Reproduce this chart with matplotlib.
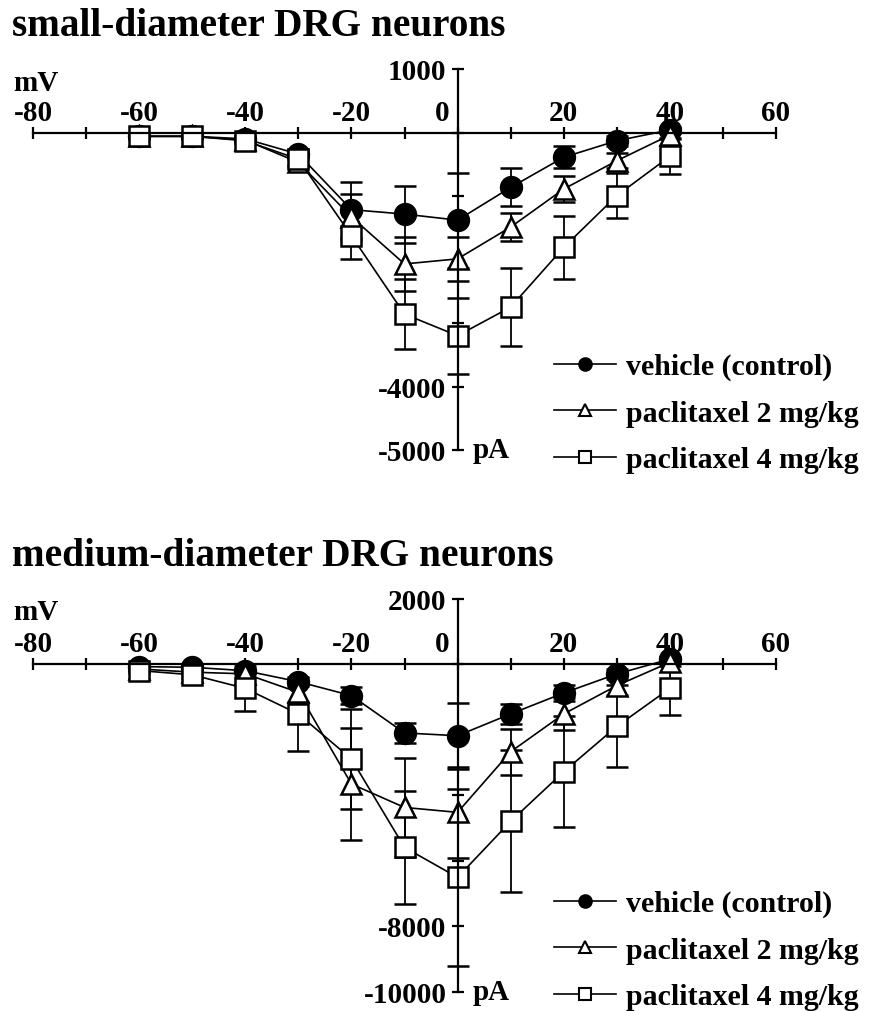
import matplotlib
matplotlib.use("Agg")
import matplotlib.pyplot as plt
from matplotlib.lines import Line2D
from matplotlib.transforms import ScaledTranslation

plt.rcParams['font.family'] = ['Liberation Serif', 'DejaVu Serif']
plt.rcParams['font.weight'] = 'bold'

# membrane potential steps (mV)
voltage = [-60, -50, -40, -30, -20, -10, 0, 10, 20, 30, 40]

# small-diameter DRG neurons: mean current (pA) and SEM
small_vehicle = [-60, -60, -100, -340, -1215, -1285, -1380, -865, -390, -130, 40]
small_vehicle_err = [20, 20, 40, 80, 440, 450, 750, 300, 170, 80, 40]
small_ptx2 = [-60, -60, -120, -470, -1330, -2070, -1990, -1490, -890, -445, -40]
small_ptx2_err = [20, 20, 40, 80, 360, 430, 350, 220, 200, 120, 40]
small_ptx4 = [-60, -60, -130, -420, -1625, -2860, -3200, -2750, -1810, -995, -375]
small_ptx4_err = [20, 20, 40, 90, 370, 550, 600, 610, 500, 350, 280]

# medium-diameter DRG neurons
med_vehicle = [-80, -100, -205, -540, -965, -2105, -2190, -1525, -885, -305, 150]
med_vehicle_err = [40, 40, 60, 120, 250, 300, 1010, 300, 250, 150, 60]
med_ptx2 = [-150, -250, -300, -865, -3665, -4380, -4530, -2680, -1525, -660, 50]
med_ptx2_err = [60, 80, 100, 300, 1700, 1500, 1400, 700, 500, 300, 100]
med_ptx4 = [-200, -330, -745, -1525, -2900, -5600, -6515, -4805, -3290, -1905, -745]
med_ptx4_err = [80, 100, 680, 1120, 1530, 1730, 2700, 2165, 1700, 1250, 810]

labels = ['vehicle (control)', 'paclitaxel 2 mg/kg', 'paclitaxel 4 mg/kg']
markers = ['o', '^', 's']
faces = ['black', 'white', 'white']

W, H = 869, 1012
fig = plt.figure(figsize=(W / 100, H / 100), dpi=100)


def px_axes(x0, x1, y_top, y_bot):
    return fig.add_axes([x0 / W, 1 - y_bot / H, (x1 - x0) / W, (y_bot - y_top) / H])


def draw_panel(ax, series, errors, ylim, ystep, ylabels, title, title_y, legend_y):
    for vals, errs, mk, fc, lab in zip(series, errors, markers, faces, labels):
        ax.errorbar(voltage, vals, yerr=errs, color='black', lw=1.2,
                    elinewidth=1.3, capsize=8, capthick=1.3,
                    marker=mk, markersize=15, markerfacecolor=fc,
                    markeredgecolor='black', markeredgewidth=1.8,
                    label=lab)

    ax.set_xlim(-80, 60)
    ax.set_ylim(*ylim)
    ax.patch.set_visible(False)

    # axes cross at the origin, x labels sit above the line
    ax.spines['top'].set_position(('data', 0))
    ax.spines['left'].set_position(('data', 0))
    ax.spines['bottom'].set_visible(False)
    ax.spines['right'].set_visible(False)
    for s in ('top', 'left'):
        ax.spines[s].set_linewidth(1.6)
    ax.xaxis.set_ticks_position('top')
    ax.yaxis.set_ticks_position('left')

    xt = list(range(-80, 61, 10))
    ax.set_xticks(xt)
    ax.set_xticklabels([str(v) if v % 20 == 0 else '' for v in xt])
    yt = list(range(ylim[0], ylim[1] + 1, ystep))
    ax.set_yticks(yt)
    ax.set_yticklabels([str(v) if v in ylabels else '' for v in yt])
    ax.tick_params(direction='inout', length=8, width=1.6, labelsize=21)
    ax.tick_params(axis='x', pad=1)
    ax.tick_params(axis='y', pad=4)

    # shift the "0" label off the y axis
    for t, lbl in zip(xt, ax.get_xticklabels()):
        if t == 0:
            lbl.set_transform(lbl.get_transform() +
                              ScaledTranslation(-15 / 100, 0, fig.dpi_scale_trans))

    fig.text(12 / W, 1 - title_y / H, title, fontsize=28.3, fontweight='bold',
             ha='left', va='baseline')
    ax.text(-0.027, 1.0, 'mV', transform=ax.transAxes, fontsize=21,
            fontweight='bold', ha='left', va='top')
    ax.text(2.8, ylim[0], 'pA', fontsize=21, fontweight='bold',
            ha='left', va='center')

    handles = [Line2D([], [], color='black', lw=1.2, marker=mk, markersize=9,
                      markerfacecolor=fc, markeredgecolor='black',
                      markeredgewidth=1.5) for mk, fc in zip(markers, faces)]
    ax.legend(handles, labels, loc='upper left', frameon=False,
              bbox_to_anchor=(554 / W, 1 - legend_y / H),
              bbox_transform=fig.transFigure, prop={'size': 21.5, 'weight': 'bold'},
              handlelength=2.07, handletextpad=0.33, labelspacing=0.65,
              borderpad=0, borderaxespad=0)


ax1 = px_axes(33, 776, 70, 451)
draw_panel(ax1, [small_vehicle, small_ptx2, small_ptx4],
           [small_vehicle_err, small_ptx2_err, small_ptx4_err],
           (-5000, 1000), 1000, (1000, -4000, -5000),
           'small-diameter DRG neurons', 36, 354)

ax2 = px_axes(33, 776, 599.5, 992.5)
draw_panel(ax2, [med_vehicle, med_ptx2, med_ptx4],
           [med_vehicle_err, med_ptx2_err, med_ptx4_err],
           (-10000, 2000), 2000, (2000, -8000, -10000),
           'medium-diameter DRG neurons', 566, 891)

fig.savefig('out.png', dpi=100)
